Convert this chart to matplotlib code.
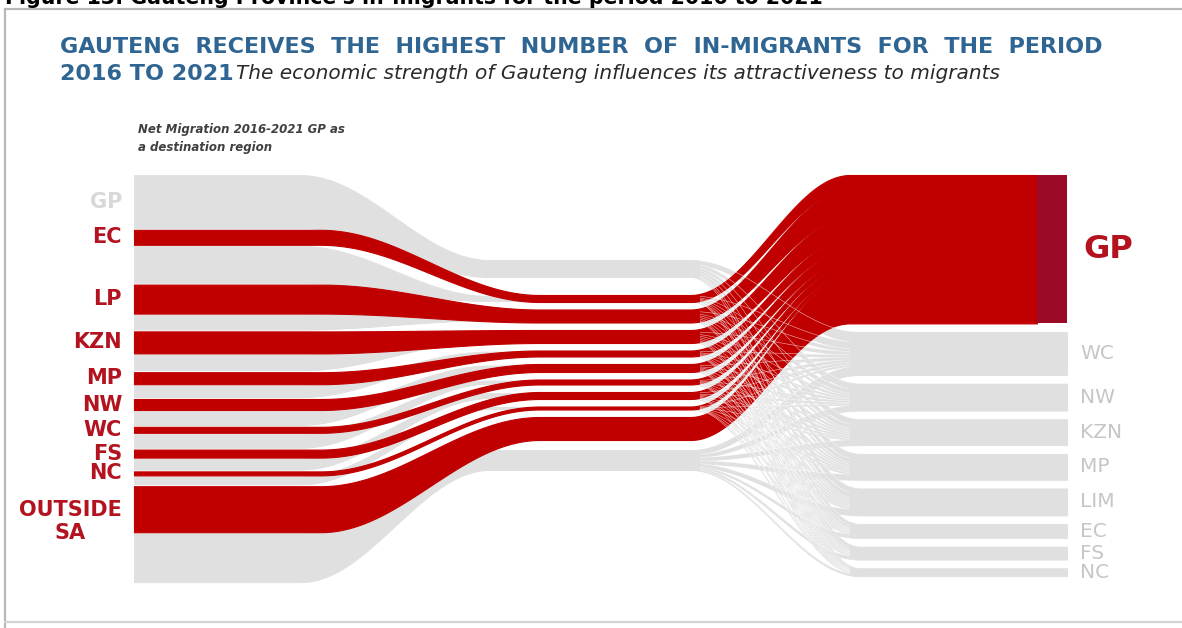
import numpy as np
import matplotlib
matplotlib.use("Agg")
import matplotlib.pyplot as plt

# origins (left column) and the relative size of their flows
ORIGINS = ["GP", "EC", "LP", "KZN", "MP", "NW", "WC", "FS", "NC", "OUTSIDE\nSA"]
TO_GP = [0, 15, 29, 22, 12, 11, 6, 8, 4, 46]            # red flows into Gauteng
TO_GP_MID = [0, 7, 13, 13, 6, 8, 5, 7, 3, 23]           # same flows, mid-way (drawn thinner)
TO_OTHER = [53, 37, 15, 16, 12, 14, 14, 11, 8, 49]      # grey flows to other provinces
TO_OTHER_MID = [17, 5, 9, 9, 4, 5, 3, 5, 2, 20]

# destinations (right column) other than GP
DESTS = ["WC", "NW", "KZN", "MP", "LIM", "EC", "FS", "NC"]
FROM_OTHER = [43, 27, 26, 26, 27, 14, 13, 8]

TITLE_1 = "GAUTENG  RECEIVES  THE  HIGHEST  NUMBER  OF  IN-MIGRANTS  FOR  THE  PERIOD"
TITLE_2 = "2016 TO 2021"
SUBTITLE = "The economic strength of Gauteng influences its attractiveness to migrants"
NOTE = "Net Migration 2016-2021 GP as\na destination region"
CAPTION = "Figure 13: Gauteng Province's in-migrants for the period 2016 to 2021"

RED = "#c00000"
DARK = "#9b0b28"
GREY = "#e0e0e0"
LABEL_RED = "#b3131f"
BLUE = "#2f6592"

W, H = 1182, 628
fig = plt.figure(figsize=(W / 100, H / 100), dpi=100)
ax = fig.add_axes([0, 0, 1, 1])
ax.set_xlim(0, W)
ax.set_ylim(H, 0)
ax.axis("off")

# layout in pixels
TOP = 175
X0, X_RED_END, X1 = 134, 1037, 1067
x = np.linspace(X0, X1, 1400)
x_red = x[x <= X_RED_END]


def ease(xs, a, b):
    t = np.clip((xs - a) / (b - a), 0, 1)
    return (1 - np.cos(np.pi * t)) / 2


def curve(xs, yl, ym, yr, left, right):
    return yl + (ym - yl) * ease(xs, *left) + (yr - ym) * ease(xs, *right)


n = len(ORIGINS)
# left column: red then grey for each origin
red_l, grey_l = {}, {}
y = TOP
for i in range(n):
    if TO_GP[i]:
        red_l[i] = y
        y += TO_GP[i] + 1.0
    grey_l[i] = y
    y += TO_OTHER[i] + 1.8

# middle: GP grey on top, red bundle, outside grey below; the rest hide behind the reds
red_m, grey_m = {}, {}
y = 260
grey_m[0] = y
y += TO_OTHER_MID[0] + 18
for i in range(1, n):
    red_m[i] = y
    grey_m[i] = y + (TO_GP_MID[i] - TO_OTHER_MID[i]) / 2
    y += TO_GP_MID[i] + 7.5
y += 10 - 7.5
grey_m[n - 1] = y

# right column: GP node then the other destinations
right_scale = 0.97
red_r = {}
y = TOP
for i in range(1, n):
    red_r[i] = y
    y += TO_GP[i] * right_scale
gp_bottom = y
dest_r = {}
y += 8.6
for d, v in enumerate(FROM_OTHER):
    dest_r[d] = y
    y += v + 8.6

# grey sub-flows origin -> destination
sum_f = sum(FROM_OTHER)
sum_t = sum(TO_OTHER)
fan_edges = []
dest_fill = {d: dest_r[d] for d in range(len(DESTS))}
for i in range(n):
    yl, ym = grey_l[i], grey_m[i]
    for d, v in enumerate(FROM_OTHER):
        wl = TO_OTHER[i] * v / sum_f
        wm = TO_OTHER_MID[i] * v / sum_f
        wr = v * TO_OTHER[i] / sum_t
        yr = dest_fill[d]
        top = curve(x, yl, ym, yr, (300, 490), (690, 860))
        bot = curve(x, yl + wl, ym + wm, yr + wr, (300, 490), (690, 860))
        ax.fill_between(x, top, bot, color=GREY, lw=0.6, ec=GREY)
        fan_edges.append(top)
        yl += wl
        ym += wm
        dest_fill[d] += wr

# thin white lines where the grey flows fan out
fan = (x > 700) & (x < 850)
for top in fan_edges:
    ax.plot(x[fan], top[fan], color="white", lw=0.4, alpha=0.7)

# red flows into GP
for i in range(1, n):
    top = curve(x_red, red_l[i], red_m[i], red_r[i], (320, 540), (690, 850))
    bot = curve(x_red, red_l[i] + TO_GP[i], red_m[i] + TO_GP_MID[i],
                red_r[i] + TO_GP[i] * right_scale, (320, 540), (690, 850))
    ax.fill_between(x_red, top, bot, color=RED, lw=0.8, ec=RED)

ax.fill_between([X_RED_END, X1], TOP, gp_bottom, color=DARK, lw=0)

# left labels
for i, name in enumerate(ORIGINS):
    if TO_GP[i]:
        yc = red_l[i] + TO_GP[i] / 2
        col = LABEL_RED
    else:
        yc = grey_l[i] + TO_OTHER[i] / 2
        col = "#d8d8d8"
    if "\n" in name:
        yc += 12
    ax.text(122, yc, name, ha="right", va="center", ma="center",
            fontsize=15, fontweight="bold", color=col, linespacing=1.2)

# right labels
ax.text(1083, (TOP + gp_bottom) / 2, "GP", ha="left", va="center",
        fontsize=23, fontweight="bold", color=LABEL_RED)
for d, name in enumerate(DESTS):
    ax.text(1080, dest_r[d] + FROM_OTHER[d] / 2, name, ha="left", va="center",
            fontsize=14.5, color="#c6c6c6")

# titles
ax.text(60, 53, TITLE_1, ha="left", va="baseline", fontsize=16,
        fontweight="bold", color=BLUE)
ax.text(60, 80, TITLE_2, ha="left", va="baseline", fontsize=16,
        fontweight="bold", color=BLUE)
ax.text(236, 79, SUBTITLE, ha="left", va="baseline", fontsize=14.5,
        style="italic", color="#2a2a2a")
ax.text(138, 123, NOTE, ha="left", va="top", fontsize=8.5, style="italic",
        fontweight="bold", color="#404040", linespacing=1.5)

# caption cut off by the top edge, and the frame
fig.text(5 / W, 1 - 4.5 / H, CAPTION, ha="left", va="baseline",
         fontsize=14.8, fontweight="bold", color="black")
ax.plot([4.5, 4.5], [8.5, H], color="#b8b8b8", lw=1.6)
ax.plot([4.5, W], [8.5, 8.5], color="#b8b8b8", lw=1.6)
ax.plot([4.5, W], [622, 622], color="#d4d4d4", lw=1.6)

fig.savefig("out.png", dpi=100)
